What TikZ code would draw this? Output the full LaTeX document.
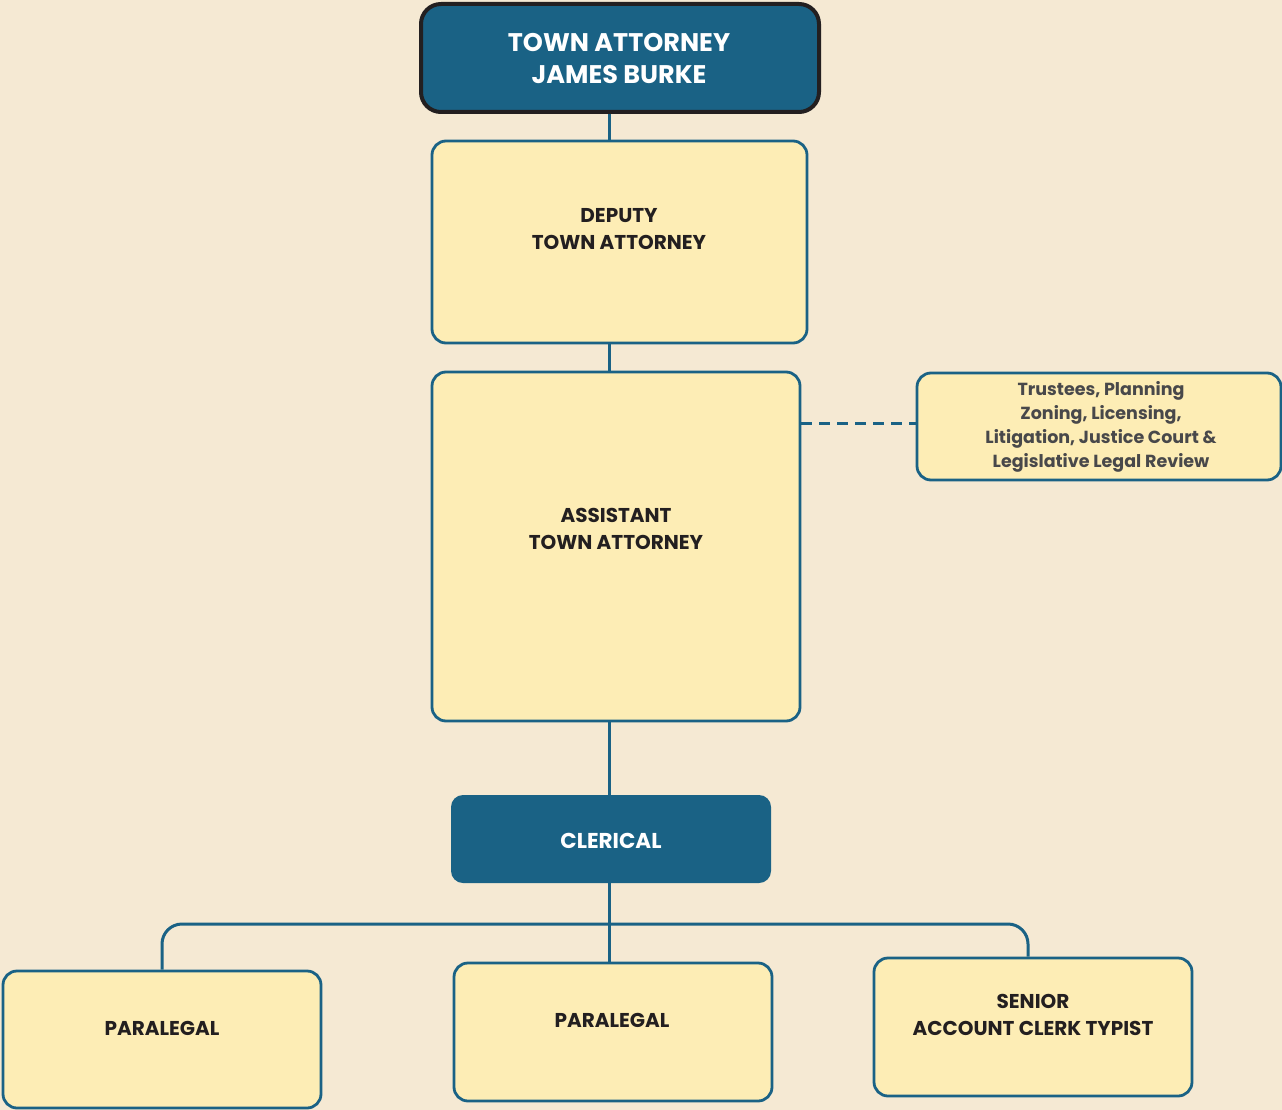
\documentclass[tikz,border=0pt]{standalone}
\usepackage{fontspec}
\setmainfont{Poppins}
\definecolor{bg}{HTML}{F5E9D3}
\definecolor{boxfill}{HTML}{FDEDB5}
\definecolor{navy}{HTML}{1A6285}
\definecolor{ink}{HTML}{231F20}
\definecolor{greyink}{HTML}{48484A}
\tikzset{
  box/.style={draw=navy, line width=2.8pt, fill=boxfill, rounded corners=14pt, inner sep=0pt},
  darkbox/.style={draw=ink, line width=4pt, fill=navy, rounded corners=20pt, inner sep=0pt},
  clerbox/.style={fill=navy, rounded corners=12pt, inner sep=0pt},
  conn/.style={draw=navy, line width=3pt},
  lbl/.style={align=center, text=ink, font=\fontsize{20}{27}\selectfont\bfseries, inner sep=0pt},
  wlbl/.style={align=center, text=white, font=\fontsize{25.5}{32}\selectfont\bfseries, inner sep=0pt},
  slbl/.style={align=center, text=greyink, font=\fontsize{17.5}{24}\selectfont\bfseries, inner sep=0pt}
}
\begin{document}
\begin{tikzpicture}[x=1pt,y=-1pt]
\fill[bg] (0,0) rectangle (1282,1110);
\useasboundingbox (0,0) rectangle (1282,1110);
% boxes
\node[box, minimum width=375pt, minimum height=202pt] (dep) at (619.5,242) {};
\node[box, minimum width=368pt, minimum height=349pt] (asst) at (616,546.5) {};
\node[box, minimum width=364pt, minimum height=107pt] (side) at (1099,426.5) {};
\node[clerbox, minimum width=320pt, minimum height=88pt] (cler) at (611,839) {};
\node[box, minimum width=318pt, minimum height=137pt] (p1) at (162,1039.5) {};
\node[box, minimum width=318pt, minimum height=138pt] (p2) at (613,1032) {};
\node[box, minimum width=318pt, minimum height=138pt] (sen) at (1033,1027) {};
\node[darkbox, minimum width=398pt, minimum height=108pt] (top) at (620,58) {};
% spine
\coordinate (spine) at (609,0);
\coordinate (bus) at (0,924);
\coordinate (rdrop) at (1028,0);
% connectors
\draw[conn] (top.south -| spine) -- (dep.north -| spine);
\draw[conn] (dep.south -| spine) -- (asst.north -| spine);
\draw[conn] (asst.south -| spine) -- (cler.north -| spine);
\draw[conn] (cler.south -| spine) -- (p2.north -| spine);
\draw[conn, rounded corners=20pt] (p1.north) |- (rdrop |- bus) -- (sen.north -| rdrop);
\draw[conn, dashed, dash pattern=on 11pt off 7pt] (asst.east |- 0,423) -- (side.west |- 0,423);
% labels
\node[wlbl] (tlbl) at (619,59) {TOWN ATTORNEY\\JAMES BURKE};
\node[lbl] (dlbl) at (619,229.5) {DEPUTY\\TOWN ATTORNEY};
\node[lbl] (albl) at (616,528.5) {ASSISTANT\\TOWN ATTORNEY};
\node[slbl] (sidelbl) at (1101,427) {Trustees, Planning\\Zoning, Licensing,\\Litigation, Justice Court \&\\Legislative Legal Review};
\node[wlbl, font=\fontsize{21.5}{27}\selectfont\bfseries] (clbl) at (611,841) {CLERICAL};
\node[lbl] (p1lbl) at (162,1028) {PARALEGAL};
\node[lbl] (p2lbl) at (612,1020) {PARALEGAL};
\node[lbl] (slbl2) at (1033,1014.5) {SENIOR\\ACCOUNT CLERK TYPIST};
\end{tikzpicture}
\end{document}
